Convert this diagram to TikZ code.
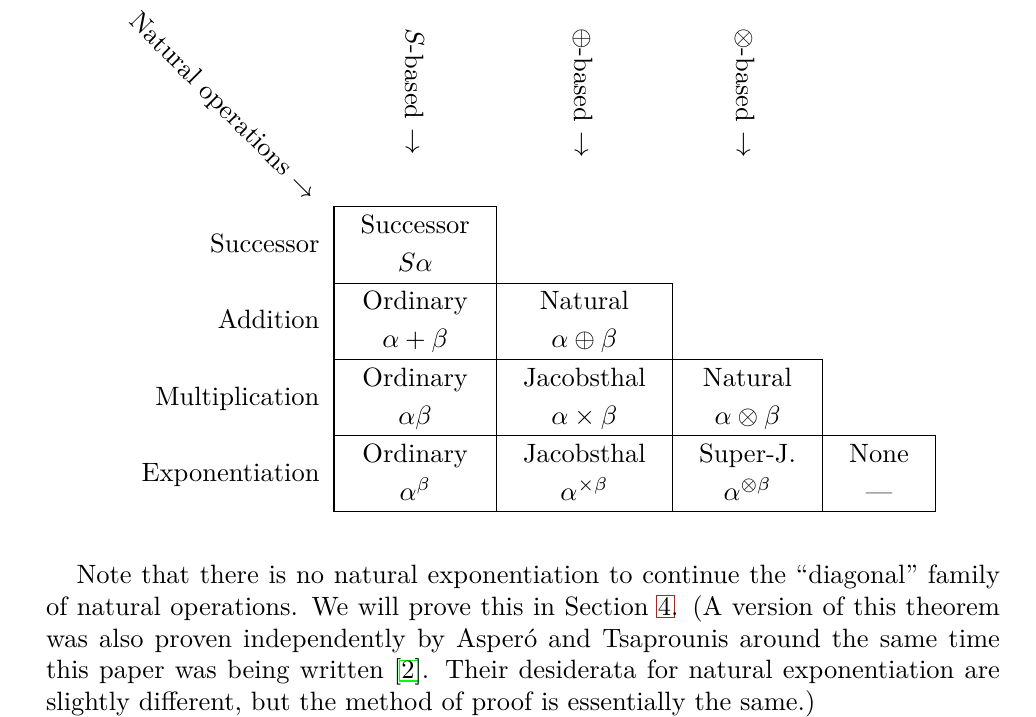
\documentclass[tikz,border=0pt]{standalone}
\usepackage{amssymb}
\newcommand\celltext[2]{{\def\arraystretch{1.2}\begin{tabular}{@{}c@{}}#1\\#2\end{tabular}}}
\newcommand\linkbox[3]{\leavevmode\rlap{\kern-0.8pt\color{#1}\setlength\fboxsep{0pt}\setlength\fboxrule{0.4pt}\fbox{\rule[-0.6pt]{0pt}{#2}\kern0.8pt\phantom{#3}\kern0.8pt}}#3}
\tikzset{
  cell/.style={draw, line width=0.4pt, inner sep=0pt, minimum height=28.8pt, anchor=center},
  rowlab/.style={anchor=base east, inner sep=0pt},
  colhead/.style={anchor=west, rotate=-90, inner sep=0pt},
  diaghead/.style={anchor=base west, rotate=-45, inner sep=0pt},
  para/.style={anchor=base west, inner sep=0pt}
}
\begin{document}
\begin{tikzpicture}[x=0.37736pt,y=-0.37736pt]
\useasboundingbox (0,0) rectangle (1036,717);

% headers
\node[diaghead] (hdiag) at (128,22.4) {Natural operations $\rightarrow$};
\node[colhead] (hS) at (415,27.5) {$S$-based $\rightarrow$};
\node[colhead] (hP) at (583,27.5) {$\oplus$-based $\rightarrow$};
\node[colhead] (hT) at (745,27.5) {$\otimes$-based $\rightarrow$};

% row labels
\node[rowlab] (rS) at (320,252.5) {Successor};
\node[rowlab] (rA) at (320,328.8) {Addition};
\node[rowlab] (rM) at (320,405.1) {Multiplication};
\node[rowlab] (rE) at (320,481.5) {Exponentiation};

% row 1
\node[cell, minimum width=61.3pt] (c11) at (415.2,244.9) {\celltext{Successor}{$S\alpha$}};
% row 2
\node[cell, minimum width=61.3pt] (c21) at (415.2,321.2) {\celltext{Ordinary}{$\alpha+\beta$}};
\node[cell, minimum width=66.3pt] (c22) at (584.4,321.2) {\celltext{Natural}{$\alpha\oplus\beta$}};
% row 3
\node[cell, minimum width=61.3pt] (c31) at (415.2,397.5) {\celltext{Ordinary}{$\alpha\beta$}};
\node[cell, minimum width=66.3pt] (c32) at (584.4,397.5) {\celltext{Jacobsthal}{$\alpha\times\beta$}};
\node[cell, minimum width=56.8pt] (c33) at (747.5,397.5) {\celltext{Natural}{$\alpha\otimes\beta$}};
% row 4
\node[cell, minimum width=61.3pt] (c41) at (415.2,473.8) {\celltext{Ordinary}{$\alpha^{\beta}$}};
\node[cell, minimum width=66.3pt] (c42) at (584.4,473.8) {\celltext{Jacobsthal}{$\alpha^{\times\beta}$}};
\node[cell, minimum width=56.8pt] (c43) at (747.5,473.8) {\celltext{Super-J.}{$\alpha^{\otimes\beta}$}};
\node[cell, minimum width=42.5pt] (c44) at (879,473.8) {\celltext{None}{---}};

% paragraph
\node[para] (txt) at (45.5,583.5) {\parbox[t]{360pt}{\setlength\parindent{11.5pt}\indent Note that there is no natural exponentiation to continue the ``diagonal'' family of natural operations. We will prove this in Section~\linkbox{red}{8pt}{4}. (A version of this theorem was also proven independently by Asper\'o and Tsaprounis around the same time this paper was being written [\linkbox{green}{6.5pt}{2}]. Their desiderata for natural exponentiation are slightly different, but the method of proof is essentially the same.)}};
\end{tikzpicture}
\end{document}
